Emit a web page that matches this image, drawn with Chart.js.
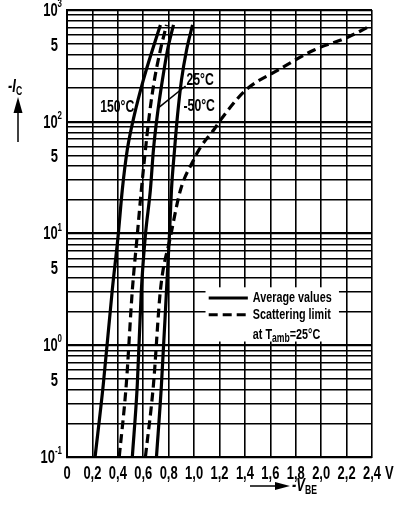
<!DOCTYPE html>
<html>
<head>
<meta charset="utf-8">
<script src="https://cdn.jsdelivr.net/npm/chart.js@4.4.1/dist/chart.umd.min.js"></script>
<style>
  html, body { margin: 0; padding: 0; background: #fff; }
  #wrap { width: 400px; height: 506px; }
</style>
</head>
<body>
<div id="wrap"><canvas id="vbeChart" width="400" height="506"></canvas></div>
<script>
// -Ic (mA) against -Vbe (V)
const currentSteps = [0.1, 0.44, 3.1, 9.7, 24.5, 55.8, 115, 237, 439, 735];
const vbe150 = [0.221, 0.285, 0.356, 0.403, 0.435, 0.474, 0.530, 0.601, 0.672, 0.735];
const vbeLowLimit = [0.411, 0.466, 0.514, 0.553, 0.585, 0.617, 0.648, 0.688, 0.735, 0.783];
const vbe25 = [0.514, 0.553, 0.585, 0.617, 0.656, 0.680, 0.711, 0.751, 0.791, 0.838];
const vbeMinus50 = [0.704, 0.743, 0.783, 0.806, 0.822, 0.846, 0.870, 0.901, 0.941, 0.988];

// upper scattering limit bends away towards 2.4 V
const highLimitCurrent = [0.1, 0.44, 3.1, 9.3, 24.5, 45.5, 59.4, 84.3, 104, 192, 290, 439, 573, 735];
const highLimitVbe = [0.617, 0.680, 0.735, 0.814, 0.893, 0.996, 1.051, 1.154, 1.209, 1.407, 1.660, 1.945, 2.213, 2.4];

const xTickValues = [0, 0.2, 0.4, 0.6, 0.8, 1.0, 1.2, 1.4, 1.6, 1.8, 2.0, 2.2, 2.4];
const xTickLabels = ['0', '0,2', '0,4', '0,6', '0,8', '1,0', '1,2', '1,4', '1,6', '1,8', '2,0', '2,2', '2,4'];
const xUnit = 'V';
const yGridValues = [];
[0.1, 1, 10, 100].forEach(d => { for (let k = 1; k < 10; k++) yGridValues.push(+(d * k).toPrecision(3)); });
yGridValues.push(1000);
const yLabelValues = [0.1, 0.5, 1, 5, 10, 50, 100, 500, 1000];
const yLabelBases = ['10', '5', '10', '5', '10', '5', '10', '5', '10'];
const yLabelExps = ['-1', '', '0', '', '1', '', '2', '', '3'];

const FONT = "'Liberation Sans', Arial, sans-serif";
const SQUEEZE = 0.72;

const toPoints = (vs, is) => vs.map((v, i) => ({ x: v, y: is[i] }));

function curve(label, data, dashed) {
  return {
    label,
    data,
    borderColor: '#000',
    borderWidth: 3.2,
    borderDash: dashed ? [9, 5] : [],
    pointRadius: 0,
    fill: false,
    cubicInterpolationMode: 'monotone',
  };
}

const isDecade = v => Math.abs(Math.log10(v) - Math.round(Math.log10(v))) < 1e-6;

// narrow bold text, the datasheet uses a condensed face
function narrowText(ctx, text, x, y, size, align = 'left', italic = false) {
  ctx.save();
  ctx.font = (italic ? 'italic ' : '') + 'bold ' + size + 'px ' + FONT;
  const w = ctx.measureText(text).width * SQUEEZE;
  let left = x;
  if (align === 'center') left = x - w / 2;
  else if (align === 'right') left = x - w;
  ctx.translate(left, y);
  ctx.scale(SQUEEZE, 1);
  ctx.textAlign = 'left';
  ctx.textBaseline = 'middle';
  ctx.fillStyle = '#000';
  ctx.fillText(text, 0, 0);
  ctx.restore();
  return w;
}

function textWidth(ctx, text, size, italic = false) {
  ctx.save();
  ctx.font = (italic ? 'italic ' : '') + 'bold ' + size + 'px ' + FONT;
  const w = ctx.measureText(text).width * SQUEEZE;
  ctx.restore();
  return w;
}

const overlay = {
  id: 'overlay',
  afterDatasetsDraw(chart) {
    const { ctx, scales: { x, y } } = chart;
    ctx.save();
    ctx.fillStyle = '#000';
    ctx.strokeStyle = '#000';

    // tick labels
    xTickValues.forEach((v, i) => {
      const px = x.getPixelForValue(v);
      const w = narrowText(ctx, xTickLabels[i], px, 474, 18, 'center');
      if (i === xTickValues.length - 1) narrowText(ctx, xUnit, px + w / 2 + 4, 474, 18);
    });
    yLabelValues.forEach((v, i) => {
      const py = y.getPixelForValue(v);
      const exp = yLabelExps[i];
      if (exp) {
        const ew = textWidth(ctx, exp, 11);
        const right = 62 - ew;
        narrowText(ctx, yLabelBases[i], right, py + 1, 18, 'right');
        narrowText(ctx, exp, right, py - 6, 11);
      } else {
        narrowText(ctx, yLabelBases[i], 58, py + 2, 18, 'right');
      }
    });

    // legend panel
    const bx0 = x.getPixelForValue(1.09), bx1 = x.getPixelForValue(2.14);
    const by0 = y.getPixelForValue(3.3), by1 = y.getPixelForValue(1.08);
    ctx.fillStyle = '#fff';
    ctx.fillRect(bx0, by0, bx1 - bx0, by1 - by0);
    ctx.fillStyle = '#000';

    const sx0 = x.getPixelForValue(1.115), sx1 = x.getPixelForValue(1.423);
    const tx = x.getPixelForValue(1.462);
    const r1 = y.getPixelForValue(2.65), r2 = y.getPixelForValue(1.87), r3 = y.getPixelForValue(1.24);
    ctx.lineWidth = 3;
    ctx.beginPath(); ctx.moveTo(sx0, r1); ctx.lineTo(sx1, r1); ctx.stroke();
    ctx.setLineDash([9, 5]);
    ctx.beginPath(); ctx.moveTo(sx0, r2); ctx.lineTo(sx1, r2); ctx.stroke();
    ctx.setLineDash([]);
    narrowText(ctx, 'Average values', tx, r1, 15);
    narrowText(ctx, 'Scattering limit', tx, r2, 15);
    let w = narrowText(ctx, 'at T', tx, r3, 15);
    w += narrowText(ctx, 'amb', tx + w, r3 + 4, 12);
    narrowText(ctx, '=25°C', tx + w, r3, 15);

    // curve labels
    narrowText(ctx, '150°C', x.getPixelForValue(0.261), y.getPixelForValue(135), 17);
    narrowText(ctx, '25°C', x.getPixelForValue(0.94), y.getPixelForValue(237), 17);
    narrowText(ctx, '-50°C', x.getPixelForValue(0.917), y.getPixelForValue(138), 17);
    ctx.lineWidth = 1.5;
    ctx.beginPath();
    ctx.moveTo(x.getPixelForValue(0.933), y.getPixelForValue(209));
    ctx.lineTo(x.getPixelForValue(0.719), y.getPixelForValue(133));
    ctx.stroke();

    // y axis title with arrow
    const iw = narrowText(ctx, '-I', 8, 87, 18, 'left', true);
    narrowText(ctx, 'C', 8 + iw, 92, 12);
    ctx.lineWidth = 1.5;
    ctx.beginPath(); ctx.moveTo(18, 142); ctx.lineTo(18, 108); ctx.stroke();
    ctx.beginPath(); ctx.moveTo(18, 97); ctx.lineTo(13.5, 113); ctx.lineTo(22.5, 113); ctx.closePath(); ctx.fill();

    // x axis title with arrow
    const ay = 486;
    ctx.beginPath(); ctx.moveTo(250, ay); ctx.lineTo(278, ay); ctx.stroke();
    ctx.beginPath(); ctx.moveTo(290, ay); ctx.lineTo(275, ay - 4); ctx.lineTo(275, ay + 4); ctx.closePath(); ctx.fill();
    const vw = narrowText(ctx, '-V', 292, ay, 18, 'left', true);
    narrowText(ctx, 'BE', 292 + vw, ay + 5, 12);
    ctx.restore();
  }
};

new Chart(document.getElementById('vbeChart').getContext('2d'), {
  type: 'line',
  data: {
    datasets: [
      curve('150 °C', toPoints(vbe150, currentSteps), false),
      curve('Scattering limit low', toPoints(vbeLowLimit, currentSteps), true),
      curve('25 °C', toPoints(vbe25, currentSteps), false),
      curve('-50 °C', toPoints(vbeMinus50, currentSteps), false),
      curve('Scattering limit high', toPoints(highLimitVbe, highLimitCurrent), true),
    ]
  },
  options: {
    responsive: false,
    animation: false,
    devicePixelRatio: 1,
    layout: { padding: { left: 0, right: 28, top: 10, bottom: 0 } },
    plugins: { legend: { display: false }, tooltip: { enabled: false } },
    scales: {
      x: {
        type: 'linear',
        min: 0,
        max: 2.4,
        afterBuildTicks: s => { s.ticks = xTickValues.map(v => ({ value: v })); },
        afterFit: s => { s.height = 49; },
        ticks: { display: false, autoSkip: false },
        grid: { color: '#000', lineWidth: 1.6, drawTicks: false },
        border: { color: '#000', width: 2 }
      },
      y: {
        type: 'logarithmic',
        min: 0.1,
        max: 1000,
        afterBuildTicks: s => { s.ticks = yGridValues.map(v => ({ value: v })); },
        afterFit: s => { s.width = 67; },
        ticks: { display: false, autoSkip: false },
        grid: {
          color: '#000',
          lineWidth: c => (c.tick && isDecade(c.tick.value) ? 2.2 : 1.5),
          drawTicks: false
        },
        border: { color: '#000', width: 2 }
      }
    }
  },
  plugins: [overlay]
});
</script>
</body>
</html>
